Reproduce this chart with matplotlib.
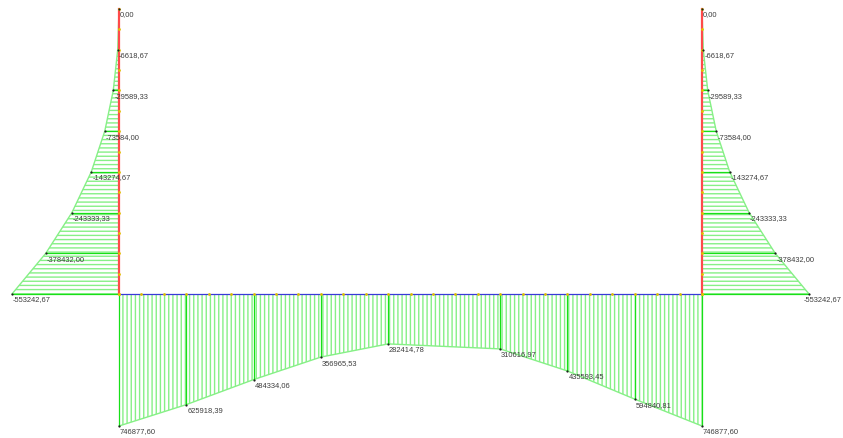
import matplotlib
matplotlib.use("Agg")
import matplotlib.pyplot as plt
import numpy as np

# ---- data ----
col_depth = [0, 2, 4, 6, 8, 10, 12, 14]            # m from column top
col_M = [0.00, -6618.67, -29589.33, -73584.00, -143274.67,
         -243333.33, -378432.00, -553242.67]
beam_pos = [0, 3, 6, 9, 12, 17, 20, 23, 26]         # m along beam
beam_M = [746877.60, 625918.39, 484334.06, 356965.53, 282414.78,
          310616.97, 435593.45, 594840.81, 746877.60]

plt.rcParams['hatch.linewidth'] = 1.0
plt.rcParams['hatch.color'] = '#86f086'

W, H = 843, 439
fig = plt.figure(figsize=(W / 100, H / 100), dpi=100)
ax = fig.add_axes([0, 0, 1, 1])
ax.set_xlim(0, W)
ax.set_ylim(H, 0)
ax.axis('off')

# geometry (pixels)
xL, xR = 119.0, 702.0
y_top, y_base = 10.0, 295.0
col_h = 14.0
beam_L = 26.0
py_col = (y_base - y_top) / col_h
px_beam = (xR - xL) / beam_L
col_scale = 107.0 / 553242.67
beam_scale = 132.0 / 746877.60

light = '#86f086'
bright = '#18e018'
txtc = '#3c3c3c'
font = dict(family='Liberation Sans', fontsize=5.4, color=txtc)

def fmt(v):
    return f"{v:.2f}".replace('.', ',')

cd = np.array(col_depth, float)
cm = np.array(col_M, float)
ys = y_top + cd * py_col

# columns
for xc, sgn in [(xL, -1), (xR, 1)]:
    xs = xc + sgn * np.abs(cm) * col_scale
    ax.fill_betweenx(ys, xc, xs, hatch='----', facecolor='none',
                     edgecolor=light, linewidth=0, zorder=1)
    ax.plot(xs, ys, color=light, lw=1.0, zorder=2)
    ax.hlines(ys, xc, xs, color=bright, lw=0.9, zorder=2)
    ax.plot(xs, ys, 'o', color='#202020', ms=1.6, mec='none', zorder=5)
    for x0, y0, v in zip(xs, ys, cm):
        if x0 + 36 > W:
            ax.text(W - 1, y0 + 1.5, fmt(v), va='top', ha='right', zorder=6, **font)
        else:
            ax.text(x0 + 1, y0 + 1.5, fmt(v), va='top', ha='left', zorder=6, **font)
    ax.plot([xc, xc], [y_top, y_base], color='#ff4a4a', lw=1.6, zorder=3)
    st = np.arange(0, col_h + 0.5, 1.0)
    ax.plot(np.full_like(st, xc), y_top + st * py_col, 'o', color='#e0c000',
            ms=2.0, mec='none', zorder=4)

# beam
bp = np.array(beam_pos, float)
bm = np.array(beam_M, float)
bx = xL + bp * px_beam
by = y_base + bm * beam_scale
ax.fill_between(bx, y_base, by, hatch='||||', facecolor='none',
                edgecolor=light, linewidth=0, zorder=1)
ax.plot(bx, by, color=light, lw=1.0, zorder=2)
ax.vlines(bx, y_base, by, color=bright, lw=0.9, zorder=2)
ax.plot(bx, by, 'o', color='#202020', ms=1.6, mec='none', zorder=5)
for x0, y0, v in zip(bx, by, bm):
    ax.text(x0 + 1, y0 + 1.5, fmt(v), va='top', ha='left', zorder=6, **font)
ax.plot([xL, xR], [y_base, y_base], color='#3a3ad8', lw=0.9, zorder=3)
st = np.arange(0, beam_L + 0.5, 1.0)
ax.plot(xL + st * px_beam, np.full_like(st, y_base), 'o', color='#e0c000',
        ms=2.0, mec='none', zorder=4)

fig.savefig('out.png', dpi=100)
